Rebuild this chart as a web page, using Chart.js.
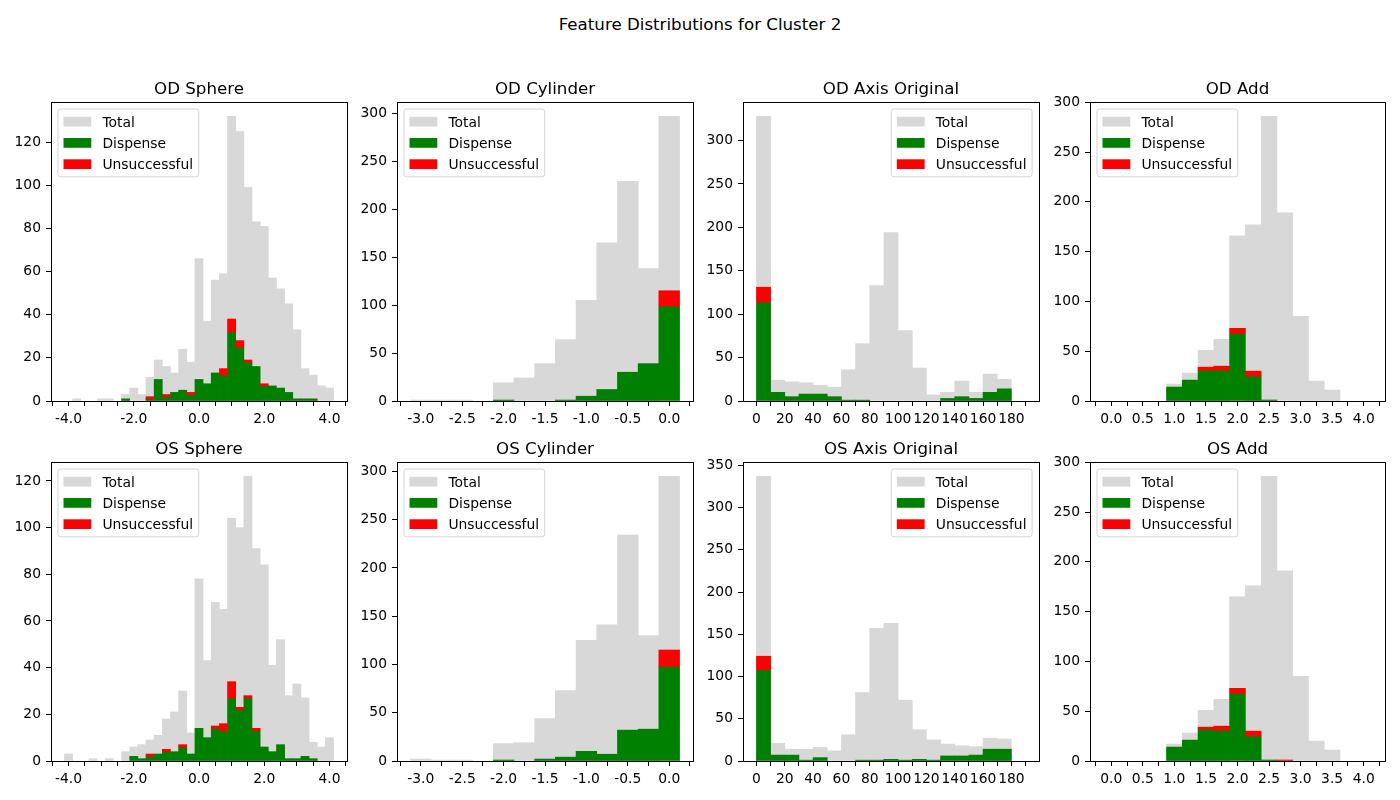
<!DOCTYPE html>
<html>
<head>
<meta charset="utf-8">
<title>Feature Distributions for Cluster 2</title>
<script src="https://cdn.jsdelivr.net/npm/chart.js@4.4.1/dist/chart.umd.min.js"></script>
<style>
    html, body { margin: 0; padding: 0; background: #fff; }
    #page { position: relative; width: 1400px; height: 800px; overflow: hidden; }
    #suptitle { position: absolute; left: 0; top: 17px; width: 1400px; text-align: center;
                font: 16.67px/1 "DejaVu Sans", sans-serif; color: #000; }
    canvas { position: absolute; }
</style>
</head>
<body>
<div id="page">
    <div id="suptitle">Feature Distributions for Cluster 2</div>
</div>
<script>
// Centres des classes (bins)
const sphereBins = [-4.0, -3.75, -3.5, -3.25, -3.0, -2.75, -2.5, -2.25, -2.0, -1.75, -1.5, -1.25, -1.0, -0.75, -0.5, -0.25,
    0.0, 0.25, 0.5, 0.75, 1.0, 1.25, 1.5, 1.75, 2.0, 2.25, 2.5, 2.75, 3.0, 3.25, 3.5, 3.75, 4.0];
const cylinderBins = [-3.0, -2.75, -2.5, -2.25, -2.0, -1.75, -1.5, -1.25, -1.0, -0.75, -0.5, -0.25, 0.0];
const axisBins = [5, 15, 25, 35, 45, 55, 65, 75, 85, 95, 105, 115, 125, 135, 145, 155, 165, 175, 185];
const addBins = [0.0, 0.25, 0.5, 0.75, 1.0, 1.25, 1.5, 1.75, 2.0, 2.25, 2.5, 2.75, 3.0, 3.25, 3.5, 3.75, 4.0];

// Graduations de l'axe x
const sphereTicks = [-4.5, -4.0, -3.5, -3.0, -2.5, -2.0, -1.5, -1.0, -0.5, 0.0, 0.5, 1.0, 1.5, 2.0, 2.5, 3.0, 3.5, 4.0, 4.5];
const sphereTickLabels = ['-4.0', '-2.0', '0.0', '2.0', '4.0'];
const cylinderTicks = [-3.25, -3.0, -2.75, -2.5, -2.25, -2.0, -1.75, -1.5, -1.25, -1.0, -0.75, -0.5, -0.25, 0.0, 0.25];
const cylinderTickLabels = ['-3.0', '-2.5', '-2.0', '-1.5', '-1.0', '-0.5', '0.0'];
const axisTicks = [0, 10, 20, 30, 40, 50, 60, 70, 80, 90, 100, 110, 120, 130, 140, 150, 160, 170, 180, 190];
const axisTickLabels = ['0', '20', '40', '60', '80', '100', '120', '140', '160', '180'];
const addTicks = [-0.25, 0.0, 0.25, 0.5, 0.75, 1.0, 1.25, 1.5, 1.75, 2.0, 2.25, 2.5, 2.75, 3.0, 3.25, 3.5, 3.75, 4.0, 4.25];
const addTickLabels = ['0.0', '0.5', '1.0', '1.5', '2.0', '2.5', '3.0', '3.5', '4.0'];

// Effectifs par classe
const odSphereTotal = [0, 1, 0, 0, 1, 1, 0, 3, 6, 3, 11, 19, 16, 13, 24, 18, 66, 37, 56, 59, 132, 125, 99, 83, 81, 57, 52, 45, 33, 15, 12, 7, 6];
const odSphereDispense = [0, 0, 0, 0, 0, 0, 0, 1, 0, 0, 1, 10, 2, 4, 5, 3, 10, 8, 13, 12, 32, 25, 18, 16, 7, 7, 6, 4, 1, 1, 1, 0, 0];
const odSphereUnsuccessful = [0, 0, 0, 0, 0, 0, 0, 0, 0, 0, 1, 0, 1, 0, 0, 1, 0, 0, 0, 3, 6, 3, 1, 0, 1, 0, 0, 0, 0, 0, 0, 0, 0];

const odCylinderTotal = [1, 1, 1, 0, 19, 24, 39, 64, 105, 165, 229, 138, 297];
const odCylinderDispense = [0, 0, 0, 0, 1, 0, 0, 1, 5, 12, 30, 39, 99];
const odCylinderUnsuccessful = [0, 0, 0, 0, 0, 0, 0, 0, 0, 0, 0, 0, 16];

const odAxisTotal = [328, 24, 22, 21, 18, 16, 36, 66, 133, 194, 81, 38, 7, 10, 23, 10, 31, 25, 0];
const odAxisDispense = [114, 10, 5, 8, 8, 5, 1, 1, 0, 0, 0, 0, 0, 3, 5, 3, 10, 14, 0];
const odAxisUnsuccessful = [17, 0, 0, 0, 0, 0, 0, 0, 0, 0, 0, 0, 0, 0, 0, 0, 0, 0, 0];

const odAddTotal = [0, 0, 0, 0, 17, 28, 51, 62, 166, 177, 286, 189, 85, 20, 11, 0, 0];
const odAddDispense = [0, 0, 0, 0, 14, 21, 31, 31, 68, 25, 1, 0, 0, 0, 0, 0, 0];
const odAddUnsuccessful = [0, 0, 0, 0, 0, 0, 3, 4, 5, 5, 0, 0, 0, 0, 0, 0, 0];

const osSphereTotal = [3, 0, 0, 1, 0, 1, 0, 4, 6, 7, 9, 11, 18, 21, 30, 12, 78, 43, 68, 65, 104, 100, 122, 91, 84, 41, 52, 28, 33, 27, 8, 6, 10];
const osSphereDispense = [0, 0, 0, 0, 0, 0, 0, 0, 2, 1, 2, 3, 4, 4, 6, 3, 14, 10, 14, 13, 27, 22, 27, 13, 6, 4, 7, 1, 1, 2, 1, 0, 0];
const osSphereUnsuccessful = [0, 0, 0, 0, 0, 0, 0, 0, 0, 0, 1, 0, 1, 0, 1, 0, 0, 0, 1, 3, 7, 1, 1, 1, 0, 0, 0, 0, 0, 0, 0, 0, 0];

const osCylinderTotal = [2, 1, 1, 0, 18, 19, 44, 73, 125, 141, 234, 130, 295];
const osCylinderDispense = [0, 0, 0, 0, 1, 0, 2, 4, 10, 7, 32, 33, 98];
const osCylinderUnsuccessful = [0, 0, 0, 0, 0, 0, 0, 0, 0, 0, 0, 0, 17];

const osAxisTotal = [337, 21, 14, 14, 16, 12, 31, 81, 157, 163, 72, 37, 25, 20, 18, 17, 27, 26, 0];
const osAxisDispense = [108, 7, 7, 1, 4, 0, 0, 1, 1, 2, 1, 2, 1, 6, 6, 7, 14, 14, 0];
const osAxisUnsuccessful = [16, 0, 0, 0, 0, 0, 0, 0, 0, 0, 0, 0, 0, 0, 0, 0, 0, 0, 0];

const osAddTotal = [0, 0, 0, 0, 17, 28, 51, 62, 165, 176, 286, 191, 85, 20, 11, 0, 0];
const osAddDispense = [0, 0, 0, 0, 14, 21, 32, 31, 68, 25, 1, 0, 0, 0, 0, 0, 0];
const osAddUnsuccessful = [0, 0, 0, 0, 0, 0, 2, 4, 5, 5, 0, 1, 0, 0, 0, 0, 0];

// Couleurs
const GRIS = '#d8d8d8';
const VERT = '#008000';
const ROUGE = '#ff0000';

// Mise en page (pixels)
const PLOT_LEFT = [51, 397, 743, 1090];
const PLOT_W = [296, 296, 296, 295];
const PLOT_TOP = [102, 462];
const PLOT_H = 299;
const Y_W = 45;       // largeur réservée à l'axe y
const X_H = 30;       // hauteur réservée à l'axe x
const TITLE_H = 24;   // hauteur du titre de chaque sous-graphe
const RIGHT_PAD = 12;
const FS = 13.89;     // taille de police (10 pt)

Chart.defaults.font.family = '"DejaVu Sans", sans-serif';
Chart.defaults.font.size = FS;
Chart.defaults.color = '#000';

const panneaux = [
    { titre: 'OD Sphere', bins: sphereBins, ticks: sphereTicks, labels: sphereTickLabels, dec: 1, pas: 20,
      total: odSphereTotal, dispense: odSphereDispense, unsuccessful: odSphereUnsuccessful, loc: 'upper left' },
    { titre: 'OD Cylinder', bins: cylinderBins, ticks: cylinderTicks, labels: cylinderTickLabels, dec: 1, pas: 50,
      total: odCylinderTotal, dispense: odCylinderDispense, unsuccessful: odCylinderUnsuccessful, loc: 'upper left' },
    { titre: 'OD Axis Original', bins: axisBins, ticks: axisTicks, labels: axisTickLabels, dec: 0, pas: 50,
      total: odAxisTotal, dispense: odAxisDispense, unsuccessful: odAxisUnsuccessful, loc: 'upper right' },
    { titre: 'OD Add', bins: addBins, ticks: addTicks, labels: addTickLabels, dec: 1, pas: 50,
      total: odAddTotal, dispense: odAddDispense, unsuccessful: odAddUnsuccessful, loc: 'upper left' },
    { titre: 'OS Sphere', bins: sphereBins, ticks: sphereTicks, labels: sphereTickLabels, dec: 1, pas: 20,
      total: osSphereTotal, dispense: osSphereDispense, unsuccessful: osSphereUnsuccessful, loc: 'upper left' },
    { titre: 'OS Cylinder', bins: cylinderBins, ticks: cylinderTicks, labels: cylinderTickLabels, dec: 1, pas: 50,
      total: osCylinderTotal, dispense: osCylinderDispense, unsuccessful: osCylinderUnsuccessful, loc: 'upper left' },
    { titre: 'OS Axis Original', bins: axisBins, ticks: axisTicks, labels: axisTickLabels, dec: 0, pas: 50,
      total: osAxisTotal, dispense: osAxisDispense, unsuccessful: osAxisUnsuccessful, loc: 'upper right' },
    { titre: 'OS Add', bins: addBins, ticks: addTicks, labels: addTickLabels, dec: 1, pas: 50,
      total: osAddTotal, dispense: osAddDispense, unsuccessful: osAddUnsuccessful, loc: 'upper left' }
];

// Cadre noir autour de la zone de tracé (4 côtés, comme matplotlib)
const cadre = {
    id: 'cadre',
    afterDatasetsDraw(chart) {
        const { ctx, chartArea: a } = chart;
        const l = Math.round(a.left) + 0.5, t = Math.round(a.top) + 0.5;
        const r = Math.round(a.right) + 0.5, b = Math.round(a.bottom) + 0.5;
        ctx.save();
        ctx.strokeStyle = '#000';
        ctx.lineWidth = 1;
        ctx.strokeRect(l, t, r - l, b - t);
        ctx.restore();
    }
};

// Légende dans la zone de tracé, style matplotlib
const mplLegend = {
    id: 'mplLegend',
    afterDraw(chart, args, opts) {
        const ctx = chart.ctx;
        const a = chart.chartArea;
        const pad = 0.4 * FS, handleLen = 2 * FS, handleH = 0.7 * FS, textPad = 0.8 * FS;
        const gap = 0.5 * FS, axPad = 0.5 * FS, rowH = 14.3;
        const sets = chart.data.datasets;
        ctx.save();
        ctx.font = FS + 'px "DejaVu Sans"';
        const textW = Math.max(...sets.map(s => ctx.measureText(s.label).width));
        const w = 2 * pad + handleLen + textPad + textW;
        const h = 2 * pad + sets.length * rowH + (sets.length - 1) * gap;
        const x = opts.loc === 'upper right' ? a.right - axPad - w : a.left + axPad;
        const y = a.top + axPad;
        ctx.beginPath();
        ctx.roundRect(x, y, w, h, 0.2 * FS);
        ctx.fillStyle = 'rgba(255,255,255,0.8)';
        ctx.fill();
        ctx.strokeStyle = 'rgba(204,204,204,0.8)';
        ctx.lineWidth = 1;
        ctx.stroke();
        sets.forEach((s, i) => {
            const cy = y + pad + rowH / 2 + i * (rowH + gap);
            ctx.fillStyle = s.backgroundColor;
            ctx.fillRect(x + pad, cy - handleH / 2, handleLen, handleH);
            ctx.fillStyle = '#000';
            ctx.textBaseline = 'alphabetic';
            ctx.fillText(s.label, x + pad + handleLen + textPad, cy + 0.36 * FS);
        });
        ctx.restore();
    }
};

// Limites de l'axe x : bords des classes + marge de 5 %
function limitesX(bins) {
    const w = bins[1] - bins[0];
    const lo = bins[0] - w / 2, hi = bins[bins.length - 1] + w / 2;
    const m = 0.05 * (hi - lo);
    return [lo - m, hi + m];
}

function points(bins, valeurs) {
    return bins.map((x, i) => ({ x: x, y: valeurs[i] > 0 ? valeurs[i] : null }));
}

// Barres flottantes posées au-dessus des "Dispense"
function pointsEmpiles(bins, bas, valeurs) {
    return bins.map((x, i) => ({ x: x, y: valeurs[i] > 0 ? [bas[i], bas[i] + valeurs[i]] : null }));
}

const page = document.getElementById('page');

panneaux.forEach((p, k) => {
    const ligne = Math.floor(k / 4), col = k % 4;
    const canvas = document.createElement('canvas');
    canvas.width = Y_W + PLOT_W[col] + RIGHT_PAD;
    canvas.height = TITLE_H + PLOT_H + X_H;
    canvas.style.left = (PLOT_LEFT[col] - Y_W) + 'px';
    canvas.style.top = (PLOT_TOP[ligne] - TITLE_H) + 'px';
    page.appendChild(canvas);

    const [xmin, xmax] = limitesX(p.bins);
    const ymax = 1.05 * Math.max(...p.total.map((t, i) => Math.max(t, p.dispense[i] + p.unsuccessful[i])));

    new Chart(canvas, {
        type: 'bar',
        data: {
            datasets: [
                { label: 'Total', data: points(p.bins, p.total), backgroundColor: GRIS, order: 2 },
                { label: 'Dispense', data: points(p.bins, p.dispense), backgroundColor: VERT, order: 1 },
                { label: 'Unsuccessful', data: pointsEmpiles(p.bins, p.dispense, p.unsuccessful), backgroundColor: ROUGE, order: 0 }
            ]
        },
        options: {
            responsive: false,
            animation: false,
            layout: { padding: { left: 0, right: RIGHT_PAD, top: 0, bottom: 0 } },
            datasets: { bar: { grouped: false, barPercentage: 1, categoryPercentage: 1 } },
            scales: {
                x: {
                    type: 'linear',
                    min: xmin,
                    max: xmax,
                    bounds: 'data',
                    offset: false,
                    grid: { offset: false, drawOnChartArea: false, drawTicks: true, tickLength: 5, color: '#000' },
                    border: { display: false },
                    afterBuildTicks: s => { s.ticks = p.ticks.map(v => ({ value: v })); },
                    afterFit: s => { s.height = X_H; },
                    ticks: {
                        autoSkip: false,
                        maxRotation: 0,
                        padding: 5,
                        color: '#000',
                        callback: v => {
                            const txt = Number(v).toFixed(p.dec);
                            return p.labels.includes(txt) ? txt : '';
                        }
                    }
                },
                y: {
                    min: 0,
                    max: ymax,
                    bounds: 'data',
                    grid: { drawOnChartArea: false, drawTicks: true, tickLength: 5, color: '#000' },
                    border: { display: false },
                    afterBuildTicks: s => {
                        const t = [];
                        for (let v = 0; v <= ymax; v += p.pas) t.push({ value: v });
                        s.ticks = t;
                    },
                    afterFit: s => { s.width = Y_W; },
                    ticks: { padding: 5, color: '#000', callback: v => String(v) }
                }
            },
            plugins: {
                legend: { display: false },
                tooltip: { enabled: false },
                title: {
                    display: true,
                    text: p.titre,
                    fullSize: false,
                    color: '#000',
                    font: { size: 16.67, weight: 'normal', lineHeight: 1.2 },
                    padding: { top: 2, bottom: 2 }
                },
                mplLegend: { loc: p.loc }
            }
        },
        plugins: [cadre, mplLegend]
    });
});
</script>
</body>
</html>
